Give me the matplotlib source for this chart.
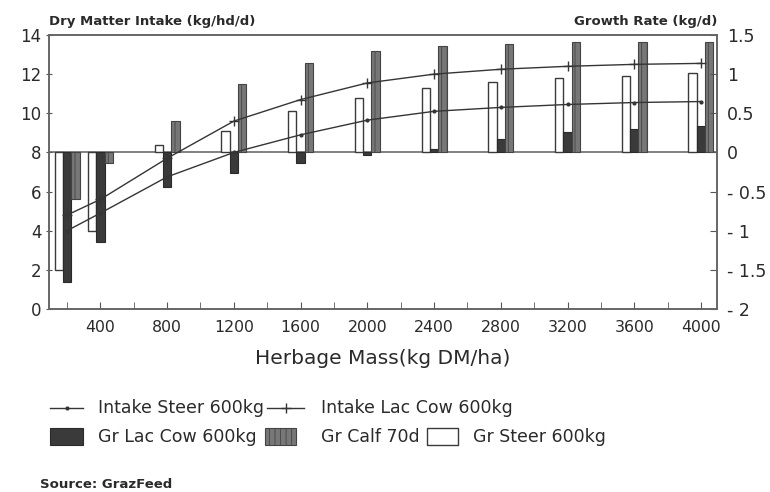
import matplotlib
matplotlib.use("Agg")
import matplotlib.pyplot as plt
from matplotlib.lines import Line2D
from matplotlib.patches import Rectangle
import numpy as np

plt.rcParams['font.family'] = ['DejaVu Sans']
plt.rcParams['hatch.linewidth'] = 0.6

# ---- data ----
herbage = [200, 400, 800, 1200, 1600, 2000, 2400, 2800, 3200, 3600, 4000]
intake_steer = [4.0, 4.9, 6.75, 8.0, 8.9, 9.65, 10.1, 10.3, 10.45, 10.55, 10.6]
intake_lac_cow = [4.8, 5.6, 7.7, 9.6, 10.7, 11.55, 12.0, 12.25, 12.4, 12.5, 12.55]
gr_steer = [-1.5, -1.0, 0.09, 0.27, 0.53, 0.70, 0.82, 0.90, 0.95, 0.98, 1.02]
gr_lac_cow = [-1.65, -1.15, -0.44, -0.26, -0.13, -0.03, 0.05, 0.17, 0.26, 0.30, 0.34]
gr_calf = [-0.6, -0.13, 0.40, 0.87, 1.14, 1.29, 1.36, 1.385, 1.41, 1.415, 1.415]
x_ticks = [400, 800, 1200, 1600, 2000, 2400, 2800, 3200, 3600, 4000]
left_ticks = [0, 2, 4, 6, 8, 10, 12, 14]
right_ticks = [-2, -1.5, -1, -0.5, 0, 0.5, 1, 1.5]
right_labels = ['- 2', '- 1.5', '- 1', '- 0.5', '0', '0.5', '1', '1.5']

W, H = 770, 492
fig = plt.figure(figsize=(W / 100, H / 100), dpi=100)
def fx(p): return p / W
def fy(p): return 1 - p / H

ax = fig.add_axes([fx(49), fy(309), (717 - 49) / W, (309 - 35) / H])
ax2 = ax.twinx()
ax.set_zorder(ax2.get_zorder() + 1)
ax.patch.set_visible(False)

x = np.array(herbage, dtype=float)
bw = 50
dark = '#353535'
ax2.bar(x - 50, gr_steer, bw, color='white', edgecolor='#3a3a3a', linewidth=1.0)
ax2.bar(x, gr_lac_cow, bw, color='#3a3a3a', edgecolor='#2a2a2a', linewidth=0.8)
ax2.bar(x + 50, gr_calf, bw, color='#777777', edgecolor='#444444', linewidth=0.8, hatch='|||')
ax2.axhline(0, color='#777777', lw=1.3, zorder=0.5)

ax.plot(x, intake_steer, color=dark, lw=1.0, marker='.', ms=4)
ax.plot(x, intake_lac_cow, color=dark, lw=1.0, marker='+', ms=7, mew=1.0)

ax.set_xlim(92, 4096)
ax.set_ylim(0, 14)
ax2.set_ylim(-2, 1.5)

ax.set_xticks(x_ticks)
ax.set_xticks(list(range(200, 4001, 400)), minor=True)
ax.set_xticklabels([str(t) for t in x_ticks])
ax.set_yticks(left_ticks)
ax.set_yticklabels([str(t) for t in left_ticks])
ax2.set_yticks(right_ticks)
ax2.set_yticklabels(right_labels)

tc = '#2a2a2a'
ax.tick_params(axis='x', which='both', direction='in', length=5, color='#555555',
               labelsize=11.3, pad=8, labelcolor=tc, top=False)
ax.tick_params(axis='y', direction='inout', length=5, color='#555555',
               labelsize=12, pad=3, labelcolor=tc)
ax2.tick_params(axis='y', direction='in', length=5, color='#555555',
                labelsize=12.5, pad=7, labelcolor=tc)

for a in (ax, ax2):
    for s in a.spines.values():
        s.set_color('#666666')
        s.set_linewidth(1.2)

fig.text(fx(49), fy(21), 'Dry Matter Intake (kg/hd/d)', fontsize=9.5, fontweight='bold',
         color=tc, ha='left', va='center')
fig.text(fx(717), fy(21), 'Growth Rate (kg/d)', fontsize=9.5, fontweight='bold',
         color=tc, ha='right', va='center')
fig.text(fx(383), fy(358), 'Herbage Mass(kg DM/ha)', fontsize=14.5, color=tc,
         ha='center', va='center')

# ---- legend (manual layout) ----
ly1, ly2 = 408, 437
fs_leg = 12.5
def leg_line(x0, x1, y, marker, ms, mew=1.0):
    xm = (x0 + x1) / 2
    fig.add_artist(Line2D([fx(x0), fx(x1)], [fy(y), fy(y)], color=dark, lw=1.0,
                          transform=fig.transFigure))
    fig.add_artist(Line2D([fx(xm)], [fy(y)], color=dark, marker=marker, ms=ms, mew=mew,
                          lw=0, transform=fig.transFigure))
def leg_rect(x0, x1, y0, y1, **kw):
    fig.add_artist(Rectangle((fx(x0), fy(y1)), fx(x1) - fx(x0), fy(y0) - fy(y1),
                             transform=fig.transFigure, **kw))

leg_line(50, 83, ly1, '.', 4)
fig.text(fx(98), fy(ly1), 'Intake Steer 600kg', fontsize=fs_leg, color=tc, va='center')
leg_line(267, 304, ly1, '+', 7)
fig.text(fx(321), fy(ly1), 'Intake Lac Cow 600kg', fontsize=fs_leg, color=tc, va='center')

leg_rect(50, 83, 428, 445, facecolor='#3a3a3a', edgecolor='#2a2a2a', lw=0.8)
fig.text(fx(98), fy(ly2), 'Gr Lac Cow 600kg', fontsize=fs_leg, color=tc, va='center')
leg_rect(265, 296, 428, 445, facecolor='#777777', edgecolor='#444444', lw=0.8, hatch='|||')
fig.text(fx(321), fy(ly2), 'Gr Calf 70d', fontsize=fs_leg, color=tc, va='center')
leg_rect(427, 458, 428, 445, facecolor='white', edgecolor='#3a3a3a', lw=1.0)
fig.text(fx(473), fy(ly2), 'Gr Steer 600kg', fontsize=fs_leg, color=tc, va='center')

fig.text(fx(40), fy(484), 'Source: GrazFeed', fontsize=9.5, fontweight='bold',
         color=tc, ha='left', va='center')

fig.savefig('out.png', dpi=100)
